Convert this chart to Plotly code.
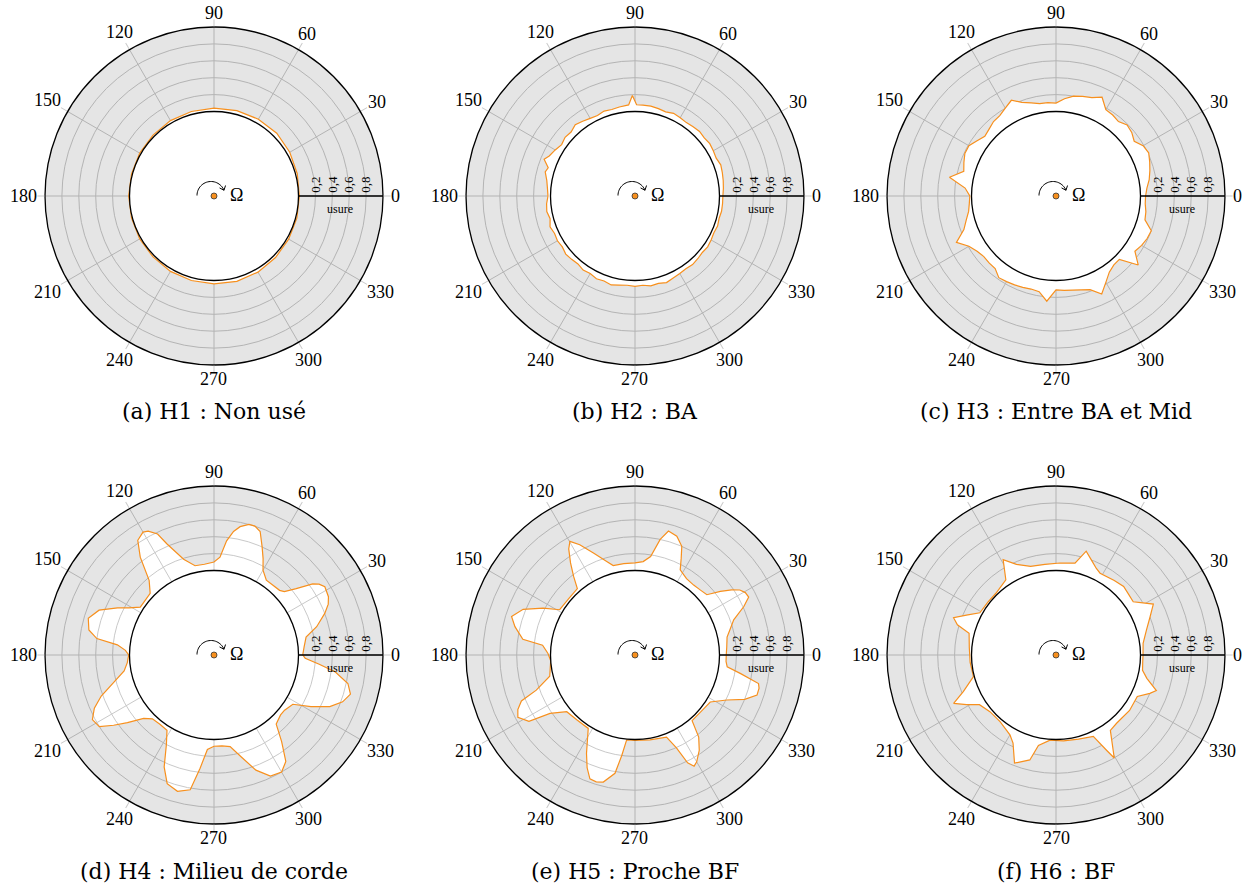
import numpy as np
import plotly.graph_objects as go

# ---------------- data (wear "usure" vs angle, degrees) ----------------
theta_a = [0, 15, 30, 45, 60, 75, 90, 105, 120, 135, 150, 165, 180, 195, 210, 225, 240, 255, 270, 285, 300, 315, 330, 345]
r_a = [0.01, 0.02, 0.035, 0.05, 0.05, 0.045, 0.04, 0.035, 0.03, 0.02, 0.015, 0.01, 0.01, 0.01, 0.015, 0.02, 0.03, 0.035, 0.04, 0.045, 0.04, 0.03, 0.02, 0.015]

theta_b = [0, 5, 10, 15, 20, 25, 30, 35, 40, 45, 50, 55, 60, 65, 70, 75, 80, 85, 89, 91.5, 94,
           100, 105, 110, 115, 120, 125, 130, 135, 140, 145, 150, 155, 158, 162,
           165, 170, 175, 180, 185, 190, 195, 200, 205, 210, 215, 220, 225, 230, 235, 240, 245, 250, 255, 260,
           265, 270, 275, 280, 285, 290, 295, 300, 305, 310, 315, 320, 325, 330, 335, 340, 345, 350, 355]
r_b = [0.04, 0.05, 0.06, 0.07, 0.08, 0.06, 0.07, 0.08, 0.07, 0.08, 0.07, 0.06, 0.07, 0.08, 0.06, 0.07, 0.08, 0.08,
       0.08, 0.19, 0.08,
       0.07, 0.06, 0.07, 0.05, 0.06, 0.08, 0.10, 0.07, 0.08, 0.06, 0.09, 0.12,
       0.16, 0.08,
       0.10, 0.06, 0.04, 0.03, 0.05, 0.06, 0.04, 0.07, 0.05, 0.06,
       0.05, 0.07, 0.06, 0.05, 0.07, 0.06, 0.08, 0.07, 0.09, 0.07,
       0.06, 0.07, 0.06, 0.08, 0.07, 0.09, 0.07, 0.06, 0.05, 0.06,
       0.05, 0.04, 0.05, 0.04, 0.03, 0.04, 0.03, 0.04, 0.04]

theta_c = [0, 5, 10, 15, 20, 25, 30, 35, 40, 45, 50, 55, 60, 65, 70, 75, 80, 85, 90, 95,
           100, 105, 110, 115, 120, 125, 130, 135, 140, 145, 150, 155, 160, 165, 170, 175, 180, 185, 190, 195,
           200, 205, 210, 215, 220, 225, 230, 235, 240, 245, 250, 255, 260, 265, 270, 275, 280, 285, 290, 295,
           300, 305, 310, 315, 320, 325, 330, 335, 340, 345, 350, 355]
r_c = [0.06, 0.08, 0.12, 0.15, 0.18, 0.21, 0.19, 0.13, 0.17, 0.19,
       0.15, 0.17, 0.18, 0.29, 0.24, 0.22, 0.20, 0.155, 0.10, 0.11,
       0.11, 0.14, 0.18, 0.25, 0.20, 0.16, 0.15, 0.12, 0.10, 0.14,
       0.19, 0.19, 0.16, 0.13, 0.28, 0.08, 0.02, 0.03, 0.05, 0.10,
       0.16, 0.30, 0.19, 0.14, 0.115, 0.12, 0.12, 0.18, 0.17, 0.16,
       0.15, 0.14, 0.15, 0.25, 0.11, 0.12, 0.13, 0.15, 0.18, 0.28,
       0.18, 0.10, 0.065, 0.06, 0.27, 0.14, 0.17, 0.19, 0.20, 0.09,
       0.08, 0.06]

theta_d = [0, 5, 11, 15.4, 20.6, 24, 27, 31.6, 34, 35.8, 38.9, 42, 44.6, 50, 55,
           60, 63, 66, 69.5, 72.4, 75, 78.5, 81, 83.7, 86.5, 90, 96, 102, 107.6, 113,
           115, 118, 120, 123.6, 127, 131, 136, 141, 147, 151, 154, 158.7, 163.7, 168.7, 172,
           174, 177, 180, 185, 190, 195, 200, 204, 208, 212, 215, 218, 222, 226, 232,
           238, 242, 246, 250, 255, 260, 263, 266, 270, 275, 280, 285, 290, 295, 300,
           304, 308, 312, 318, 322, 328, 332, 336, 340, 344, 348, 352, 355, 358]
r_d = [0.05, 0.07, 0.11, 0.26, 0.40, 0.48, 0.52, 0.54, 0.50, 0.44, 0.25, 0.12, 0.09, 0.08, 0.08,
       0.16, 0.28, 0.40, 0.56, 0.60, 0.60, 0.55, 0.48, 0.36, 0.16, 0.10, 0.08, 0.08, 0.19, 0.43,
       0.58, 0.66, 0.68, 0.63, 0.45, 0.17, 0.05, 0.04, 0.04, 0.15, 0.27, 0.46, 0.55, 0.51, 0.40,
       0.15, 0.05, 0.01, 0.03, 0.08, 0.22, 0.42, 0.55, 0.63, 0.60, 0.45, 0.30, 0.12, 0.05, 0.04,
       0.05, 0.20, 0.45, 0.62, 0.67, 0.62, 0.35, 0.12, 0.08, 0.08, 0.10, 0.25, 0.45, 0.58, 0.60,
       0.52, 0.30, 0.10, 0.06, 0.06, 0.10, 0.30, 0.50, 0.62, 0.68, 0.62, 0.45, 0.25, 0.08]

theta_e = [0, 5, 11, 15.4, 19.6, 24, 27, 29.5, 31.8, 34, 36.7, 40, 45, 50, 56,
           62, 64.5, 66.7, 70.6, 74.9, 77.7, 81, 85, 90, 97, 103.7, 107, 112, 116.6, 119.8,
           122, 125, 128, 131, 140, 149, 153, 157.8, 162.7, 166.7, 172, 174, 179, 184, 190,
           194, 199.6, 202, 205, 208, 212, 214.5, 219.7, 228, 237.5, 243.8, 247, 250, 253, 256,
           260.4, 262.5, 264.4, 270, 280, 291, 294, 296, 298, 300, 304, 307.8, 311, 320, 328,
           333.9, 338, 341.8, 345, 347, 350, 352.7, 356]
r_e = [0.08, 0.09, 0.11, 0.17, 0.24, 0.41, 0.51, 0.50, 0.46, 0.38, 0.26, 0.11, 0.09, 0.08, 0.09,
       0.14, 0.27, 0.40, 0.49, 0.52, 0.40, 0.18, 0.11, 0.09, 0.09, 0.09, 0.16, 0.30, 0.46, 0.55,
       0.48, 0.33, 0.18, 0.04, 0.03, 0.04, 0.22, 0.43, 0.53, 0.46, 0.34, 0.10, 0.03, 0.00, 0.02,
       0.04, 0.24, 0.45, 0.53, 0.57, 0.48, 0.22, 0.05, 0.03, 0.03, 0.30, 0.45, 0.56, 0.57, 0.55,
       0.42, 0.20, 0.01, 0.01, 0.02, 0.04, 0.20, 0.42, 0.49, 0.46, 0.36, 0.23, 0.03, 0.03, 0.05,
       0.21, 0.40, 0.52, 0.52, 0.50, 0.27, 0.10, 0.08]

theta_f = [0, 7.6, 15.4, 22, 27.6, 31, 34.6, 40, 45.4, 52, 61.7, 65, 69, 73.8, 78.3,
           87.5, 97, 106, 113.6, 119, 123.7, 134, 142, 151, 156, 160, 163, 166, 175, 185,
           194.7, 201.6, 205.3, 209, 213, 220.6, 230, 240, 244, 249, 256, 259, 266, 275, 285,
           294.6, 298, 299.5, 305.8, 311.6, 323, 333, 337.8, 340.5, 345.6, 350, 355]
r_f = [0.03, 0.04, 0.11, 0.20, 0.30, 0.20, 0.11, 0.12, 0.14, 0.12, 0.10, 0.13, 0.19, 0.28, 0.11,
       0.09, 0.08, 0.09, 0.17, 0.29, 0.07, 0.02, 0.02, 0.03, 0.16, 0.29, 0.22, 0.06, 0.03, 0.02,
       0.01, 0.18, 0.34, 0.21, 0.08, 0.03, 0.03, 0.09, 0.16, 0.37, 0.28, 0.09, 0.01, 0.02, 0.03,
       0.06, 0.28, 0.40, 0.10, 0.08, 0.09, 0.08, 0.20, 0.26, 0.11, 0.04, 0.03]

captions = ["(a) H1 : Non usé", "(b) H2 : BA", "(c) H3 : Entre BA et Mid",
            "(d) H4 : Milieu de corde", "(e) H5 : Proche BF", "(f) H6 : BF"]
angle_ticks = [0, 30, 60, 90, 120, 150, 180, 210, 240, 270, 300, 330]
radial_ticks = [0.2, 0.4, 0.6, 0.8]
radial_labels = ["0,2", "0,4", "0,6", "0,8"]
radial_title = "usure"

series = [(theta_a, r_a), (theta_b, r_b), (theta_c, r_c),
          (theta_d, r_d), (theta_e, r_e), (theta_f, r_f)]

# ---------------- styling / geometry ----------------
W, H = 1244, 888
COL_CX = [214, 635, 1056]
ROW_CY = [196, 655]
RAD = 169
ORANGE = "#f7901e"
GRID = "#c9c9c9"
SHADE = "rgba(0,0,0,0.1)"
TICK_FONT = dict(family="Liberation Serif", size=18, color="black")
opaque_inside = [True, True, True, False, False, True]

# rotation-arrow glyph (pixel offsets from the centre dot, y up)
arc_t = np.radians(np.linspace(180, 22, 30))
arc_x = -3 + 14 * np.cos(arc_t)
arc_y = 0.5 + 14 * np.sin(arc_t)
tip = np.array([arc_x[-1], arc_y[-1]])
back = -np.array([np.sin(arc_t[-1]), -np.cos(arc_t[-1])])
def rot(v, deg):
    a = np.radians(deg)
    return np.array([v[0] * np.cos(a) - v[1] * np.sin(a), v[0] * np.sin(a) + v[1] * np.cos(a)])
b1 = tip + 5 * rot(back, 40)
b2 = tip + 5 * rot(back, -40)
arc_path = "M " + " L ".join(f"{x:.2f},{y:.2f}" for x, y in zip(arc_x, arc_y))
arrow_path = f"M {b1[0]:.2f},{b1[1]:.2f} L {tip[0]:.2f},{tip[1]:.2f} L {b2[0]:.2f},{b2[1]:.2f}"

fig = go.Figure()
annotations = []
shapes = []
layout_polars = {}

ring = np.linspace(360, 0, 361)

for i, (th, rr) in enumerate(series):
    name = "polar" if i == 0 else f"polar{i + 1}"
    cx = COL_CX[i % 3]
    cy = ROW_CY[i // 3]
    th_c = list(th) + [th[0] + 360]
    r_c = list(rr) + [rr[0]]

    if opaque_inside[i]:
        fig.add_trace(go.Scatterpolar(theta=th_c, r=r_c, mode="lines", fill="toself",
                                      fillcolor="white", line=dict(width=0),
                                      subplot=name, hoverinfo="skip"))
    fig.add_trace(go.Scatterpolar(theta=th_c + list(ring), r=r_c + [1.0] * len(ring),
                                  mode="lines", fill="toself", fillcolor=SHADE,
                                  line=dict(width=0), subplot=name, hoverinfo="skip"))
    fig.add_trace(go.Scatterpolar(theta=th_c, r=r_c, mode="lines",
                                  line=dict(color=ORANGE, width=1.2), subplot=name))

    layout_polars[name] = dict(
        domain=dict(x=[(cx - RAD) / W, (cx + RAD) / W],
                    y=[(H - cy - RAD) / H, (H - cy + RAD) / H]),
        hole=0.5,
        bgcolor="white",
        angularaxis=dict(rotation=0, direction="counterclockwise",
                         tickmode="array", tickvals=angle_ticks,
                         showticklabels=False,
                         ticks="outside", ticklen=7, tickcolor=GRID, tickwidth=1,
                         showgrid=True, gridcolor=GRID, gridwidth=1,
                         showline=True, linecolor="black", linewidth=1.3),
        radialaxis=dict(range=[0, 1], tickmode="array", tickvals=radial_ticks,
                        ticktext=radial_labels, angle=0, side="counterclockwise",
                        tickangle=-90, ticks="", showline=True, linecolor="black",
                        linewidth=1.5, showgrid=True, gridcolor=GRID, gridwidth=1,
                        tickfont=dict(family="Liberation Serif", size=13, color="black")),
    )

    # angular tick labels placed just outside the tick marks
    for a in angle_ticks:
        txt = str(a)
        c, s = np.cos(np.radians(a)), np.sin(np.radians(a))
        wlab, hlab = 9.0 * len(txt), 12.0
        d = RAD + 8 + 0.5 * (wlab * abs(c) + hlab * abs(s))
        annotations.append(dict(text=txt, x=(cx + d * c) / W, y=1 - (cy - d * s) / H,
                                xref="paper", yref="paper", showarrow=False,
                                xanchor="center", yanchor="middle", font=TICK_FONT))

    xc = cx / W
    yc = 1 - cy / H
    annotations.append(dict(text=captions[i], x=xc, y=1 - (cy + 216) / H, xref="paper", yref="paper",
                            showarrow=False, xanchor="center", yanchor="middle",
                            font=dict(family="DejaVu Serif", size=22, color="black")))
    annotations.append(dict(text=radial_title, x=(cx + 126) / W, y=1 - (cy + 13) / H,
                            xref="paper", yref="paper", showarrow=False,
                            xanchor="center", yanchor="middle",
                            font=dict(family="Liberation Serif", size=12, color="black")))
    annotations.append(dict(text="Ω", x=(cx + 22) / W, y=1 - (cy - 1) / H,
                            xref="paper", yref="paper", showarrow=False,
                            xanchor="center", yanchor="middle",
                            font=dict(family="Liberation Serif", size=18, color="black")))
    for p in (arc_path, arrow_path):
        shapes.append(dict(type="path", path=p, xref="paper", yref="paper",
                           xsizemode="pixel", ysizemode="pixel", xanchor=xc, yanchor=yc,
                           line=dict(color="black", width=1)))
    shapes.append(dict(type="circle", xref="paper", yref="paper",
                       xsizemode="pixel", ysizemode="pixel", xanchor=xc, yanchor=yc,
                       x0=-3, x1=3, y0=-3, y1=3,
                       fillcolor=ORANGE, line=dict(color="#333333", width=0.8)))

fig.update_layout(
    width=W, height=H, margin=dict(l=0, r=0, t=0, b=0),
    paper_bgcolor="white", plot_bgcolor="white", showlegend=False,
    annotations=annotations, shapes=shapes, **layout_polars,
)

fig.write_html("out.html", config={"displayModeBar": False},
               post_script="document.body.style.margin='0';")
